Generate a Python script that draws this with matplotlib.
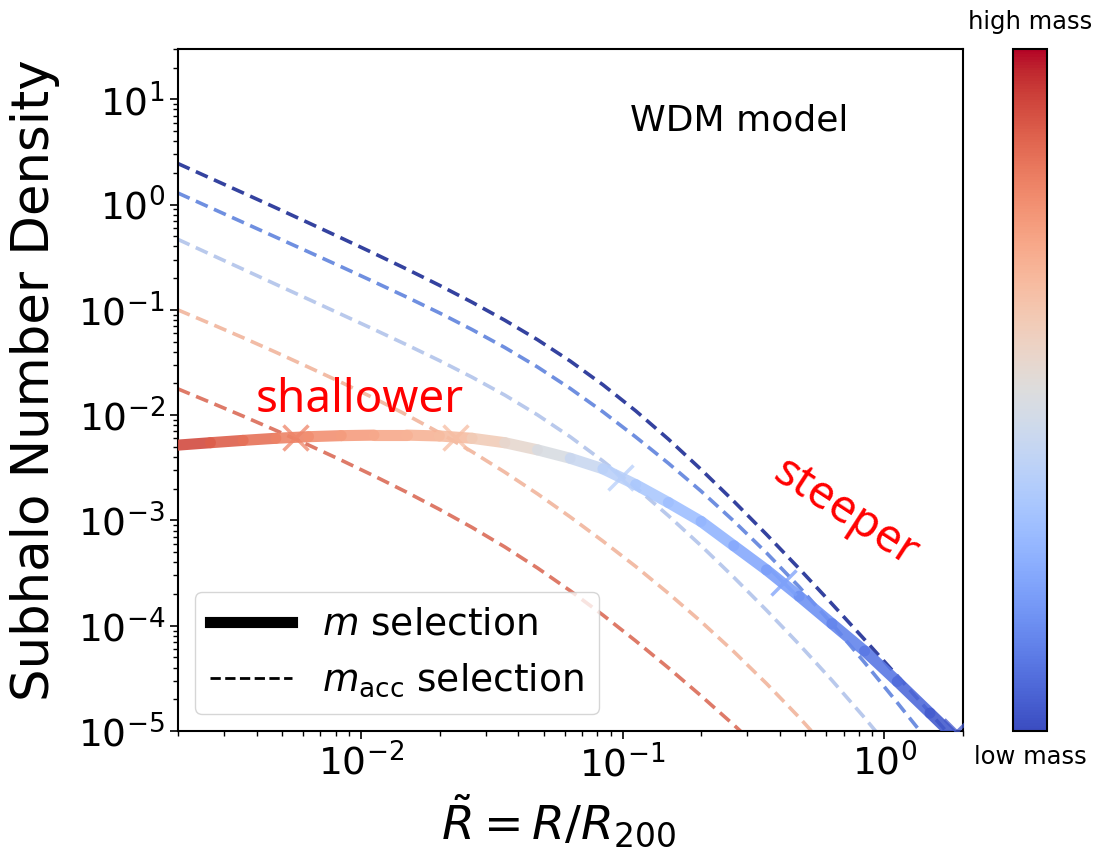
import numpy as np
import matplotlib
matplotlib.use("Agg")
import matplotlib.pyplot as plt
from matplotlib.collections import LineCollection
from matplotlib.lines import Line2D
import matplotlib as mpl

# ---------------- data ----------------
# common log10(R/R200) grid
logR = [-2.700, -2.575, -2.450, -2.325, -2.200, -2.075, -1.950, -1.825, -1.700,
        -1.575, -1.450, -1.325, -1.200, -1.075, -0.950, -0.825, -0.700, -0.575,
        -0.450, -0.325, -0.200, -0.075, 0.050, 0.175, 0.300]

# dashed m_acc-selection curves (log10 density), low mass -> high mass
logn_dark_blue = [0.390, 0.250, 0.110, -0.031, -0.174, -0.318, -0.464, -0.613, -0.767,
                  -0.928, -1.099, -1.284, -1.487, -1.712, -1.959, -2.228, -2.516, -2.818,
                  -3.133, -3.458, -3.792, -4.132, -4.477, -4.827, -5.181]
logn_mid_blue = [0.110, -0.030, -0.170, -0.310, -0.450, -0.591, -0.734, -0.879, -1.029,
                 -1.188, -1.358, -1.543, -1.747, -1.969, -2.207, -2.457, -2.722, -3.006,
                 -3.308, -3.631, -3.981, -4.350, -4.731, -5.119, -5.513]
logn_light_blue = [-0.330, -0.473, -0.615, -0.758, -0.900, -1.043, -1.186, -1.332, -1.482,
                   -1.640, -1.810, -1.998, -2.206, -2.436, -2.686, -2.955, -3.240, -3.540,
                   -3.853, -4.178, -4.518, -4.875, -5.250, -5.638, -6.031]
logn_salmon = [-1.000, -1.131, -1.265, -1.403, -1.545, -1.689, -1.839, -1.998, -2.167,
               -2.348, -2.542, -2.748, -2.967, -3.197, -3.437, -3.692, -3.961, -4.246,
               -4.549, -4.871, -5.215, -5.578, -5.953, -6.340, -6.734]
logn_red = [-1.750, -1.879, -2.010, -2.145, -2.284, -2.428, -2.577, -2.732, -2.895,
            -3.067, -3.252, -3.452, -3.668, -3.899, -4.144, -4.400, -4.666, -4.942,
            -5.230, -5.530, -5.842, -6.167, -6.505, -6.855, -7.218]

# solid m-selection curve
logn_solid = [-2.285, -2.262, -2.240, -2.220, -2.205, -2.195, -2.190, -2.190, -2.198,
              -2.220, -2.262, -2.330, -2.410, -2.510, -2.660, -2.830, -3.010, -3.240,
              -3.470, -3.720, -3.980, -4.240, -4.530, -4.830, -5.130]

# crossing markers
marker_R = [0.00558, 0.0229, 0.0975, 0.409, 1.88]
marker_n = [6.2e-3, 6.2e-3, 2.6e-3, 2.6e-4, 1.0e-5]

# ---------------- style ----------------
cmap = mpl.colormaps["coolwarm"]
dash_colors = ["#34429f", "#6f8fe0", "#b9c9ec", "#f2bca6", "#de7a68"]
dash_series = [logn_dark_blue, logn_mid_blue, logn_light_blue, logn_salmon, logn_red]
marker_c = [0.80, 0.65, 0.37, 0.20, 0.03]

fig = plt.figure(figsize=(10.94, 8.57), dpi=100)
ax = fig.add_axes([178/1094, 126/857, 785/1094, 682/857])
ax.set_xscale("log")
ax.set_yscale("log")

xg = 10.0 ** np.array(logR)
for ys, c in zip(dash_series, dash_colors):
    ax.plot(xg, 10.0 ** np.array(ys), ls=(0, (3.6, 1.9)), color=c, lw=2.6, zorder=2)

# gradient solid line (colour follows the mass scale along the curve)
ys = 10.0 ** np.array(logn_solid)
pts = np.column_stack([xg, ys])
segs = np.stack([pts[:-1], pts[1:]], axis=1)
mid_log = 0.5 * (np.array(logR[:-1]) + np.array(logR[1:]))
cvals = np.interp(mid_log, [-2.7, -2.25, -1.64, -1.3, -1.0, -0.39, 0.27],
                  [0.93, 0.80, 0.65, 0.50, 0.37, 0.20, 0.03])
lc = LineCollection(segs, colors=cmap(cvals), linewidths=8, alpha=0.9,
                    capstyle="round", joinstyle="round", zorder=3)
ax.add_collection(lc)

for mx, my, mc in zip(marker_R, marker_n, marker_c):
    ax.plot([mx], [my], marker="x", ms=18, mew=2.5, color=cmap(mc), alpha=0.75,
            ls="none", zorder=4)

ax.set_xlim(0.002, 2.0)
ax.set_ylim(1e-5, 30)

ax.tick_params(axis="both", which="major", labelsize=27, length=6, width=1.2)
ax.tick_params(axis="both", which="minor", length=3.5, width=1.0)
for s in ax.spines.values():
    s.set_linewidth(1.5)

ax.set_xlabel(r"$\tilde{R} = R/R_{200}$", fontsize=34)
ax.xaxis.set_label_coords(0.485, -0.090)
ax.set_ylabel("Subhalo Number Density", fontsize=37)
ax.yaxis.set_label_coords(-0.150, 0.515)

ax.text(0.715, 0.895, "WDM model", transform=ax.transAxes, fontsize=26,
        ha="center", va="center")
ax.text(0.232, 0.486, "shallower", transform=ax.transAxes, fontsize=33,
        color="red", ha="center", va="center", family="Noto Sans")
ax.text(0.850, 0.320, "steeper", transform=ax.transAxes, fontsize=33,
        color="red", ha="center", va="center", rotation=-33, family="Noto Sans")

handles = [Line2D([], [], color="black", lw=8),
           Line2D([], [], color="black", lw=2, ls="--")]
ax.legend(handles, [r"$m$ selection", r"$m_{\rm acc}$ selection"],
          loc="lower left", fontsize=27, handlelength=2.2, framealpha=0.8,
          borderaxespad=0.45)

# colorbar
cax = fig.add_axes([1013/1094, 126/857, 34/1094, 682/857])
sm = mpl.cm.ScalarMappable(cmap=cmap, norm=mpl.colors.Normalize(0, 1))
cb = fig.colorbar(sm, cax=cax)
cb.set_ticks([])
cb.outline.set_linewidth(1.5)
fig.text(1030/1094, 1 - 22/857, "high mass", fontsize=17.5, ha="center", va="center")
fig.text(1030/1094, 1 - 757/857, "low mass", fontsize=17.5, ha="center", va="center")

fig.savefig("out.png", dpi=100)
